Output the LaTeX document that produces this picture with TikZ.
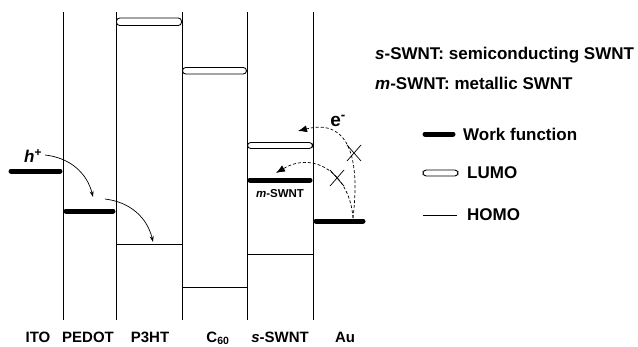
\documentclass[tikz,border=0pt]{standalone}
\usepackage{fontspec}
\setmainfont{Liberation Sans}
\usetikzlibrary{arrows.meta,calc}
\tikzset{
  wf/.style={line width=5pt, line cap=round},
  lumo/.style={draw, fill=white, line width=0.9pt, rounded corners=3.2pt},
  homo/.style={line width=0.8pt},
  wall/.style={line width=0.8pt},
  lbl/.style={font=\bfseries\fontsize{15}{17}\selectfont, inner sep=0pt},
  key/.style={font=\bfseries\fontsize{17}{19}\selectfont, inner sep=0pt, anchor=west},
  hop/.style={-{Stealth[length=6pt,width=4pt]}, line width=0.7pt},
  jump/.style={densely dashed, -{Latex[length=9pt,width=7pt]}, line width=0.7pt},
  cross/.style={line width=0.7pt}
}
\begin{document}
\begin{tikzpicture}[x=1pt,y=-1pt]
\useasboundingbox (0,0) rectangle (638,346);
% layer walls
\foreach \xx in {63,116,182,247,313}
  \draw[wall] (\xx,12) -- (\xx,320);
\path node (ITOt) at (11,171) {}
node (ITOb) at (60,171) {}
node (PEDt) at (66,211) {}
node (PEDb) at (113,211) {}
node (mSt) at (250,180) {}
node (mSb) at (310,180) {}
node (Aut) at (316,221) {}
node (Aub) at (363,221) {}
node (P3Hl) at (116,244) {}
node (P3Hr) at (182,244) {}
node (C6l) at (182,287) {}
node (C6r) at (247,287) {}
node (sSl) at (247,254) {}
node (sSr) at (313,254) {}
;
% work functions
\draw[wf] (ITOt.center) -- (ITOb.center);
\draw[wf] (PEDt.center) -- (PEDb.center);
\draw[wf] (mSt.center) -- (mSb.center);
\draw[wf] (Aut.center) -- (Aub.center);
% LUMO levels
\draw[lumo] (116.5,18) rectangle (181.5,25.5);
\draw[lumo] (182.5,67.5) rectangle (246.5,74);
\draw[lumo] (247.5,142.5) rectangle (312.5,148.5);
% HOMO levels
\draw[homo] (P3Hl.center) -- (P3Hr.center);
\draw[homo] (C6l.center) -- (C6r.center);
\draw[homo] (sSl.center) -- (sSr.center);
% labels
\path node[lbl] (ITO) at (38,337) {ITO}
node[lbl] (PEDOT) at (88,337) {PEDOT}
node[lbl] (P3HT) at (150,337) {P3HT}
node[lbl] (C60) at (218,338) {C\textsubscript{60}}
node[lbl] (sSWNT) at (280,337) {\textit{s}-SWNT}
node[lbl] (Au) at (345,337) {Au}
node[lbl, font=\bfseries\fontsize{11.5}{13}\selectfont] (mS) at (280,194) {\textit{m}-SWNT}
node[lbl, font=\bfseries\itshape\fontsize{17}{19}\selectfont] (h) at (33,156) {h\textsuperscript{+}}
node[lbl, font=\bfseries\fontsize{19}{21}\selectfont] (e) at (338,121) {e\textsuperscript{-}}
;
% hole transfer
\path node (h1) at (45,155) {}
node (h2) at (93,197) {}
node (h3) at (105,199) {}
node (h4) at (153,242) {}
;
\draw[hop] (h1.center) to[bend left=35] (h2.center);
\draw[hop] (h3.center) to[bend left=35] (h4.center);
% blocked electron transfer
\path node (e0) at (353,218) {}
node (e1) at (298,131) {}
node (e2) at (276,173) {}
node (x1) at (354,153) {}
node (x2) at (337,178) {}
;
\draw[jump] (e0.center) .. controls (360,160) and (350,118) .. (e1.center);
\draw[jump] (e0.center) .. controls (350,175) and (315,150) .. (e2.center);
\draw[cross] ($(x1)+(-7,-8)$) -- ($(x1)+(7,8)$) ($(x1)+(-7,8)$) -- ($(x1)+(7,-8)$);
\draw[cross] ($(x2)+(-7,-8)$) -- ($(x2)+(7,8)$) ($(x2)+(-7,8)$) -- ($(x2)+(7,-8)$);
% legend
\path node[key] (kS) at (375,55) {\textit{s}-SWNT: semiconducting SWNT}
node[key] (kM) at (375,83) {\textit{m}-SWNT: metallic SWNT}
node[key] (kWF) at (463,134) {Work function}
node[key] (kL) at (467,173) {LUMO}
node[key] (kH) at (467,215) {HOMO}
;
\draw[wf] (425,134) -- (453,134);
\draw[lumo] (423,170) rectangle (458,176);
\draw[homo] (423,215) -- (457,215);
\end{tikzpicture}
\end{document}
